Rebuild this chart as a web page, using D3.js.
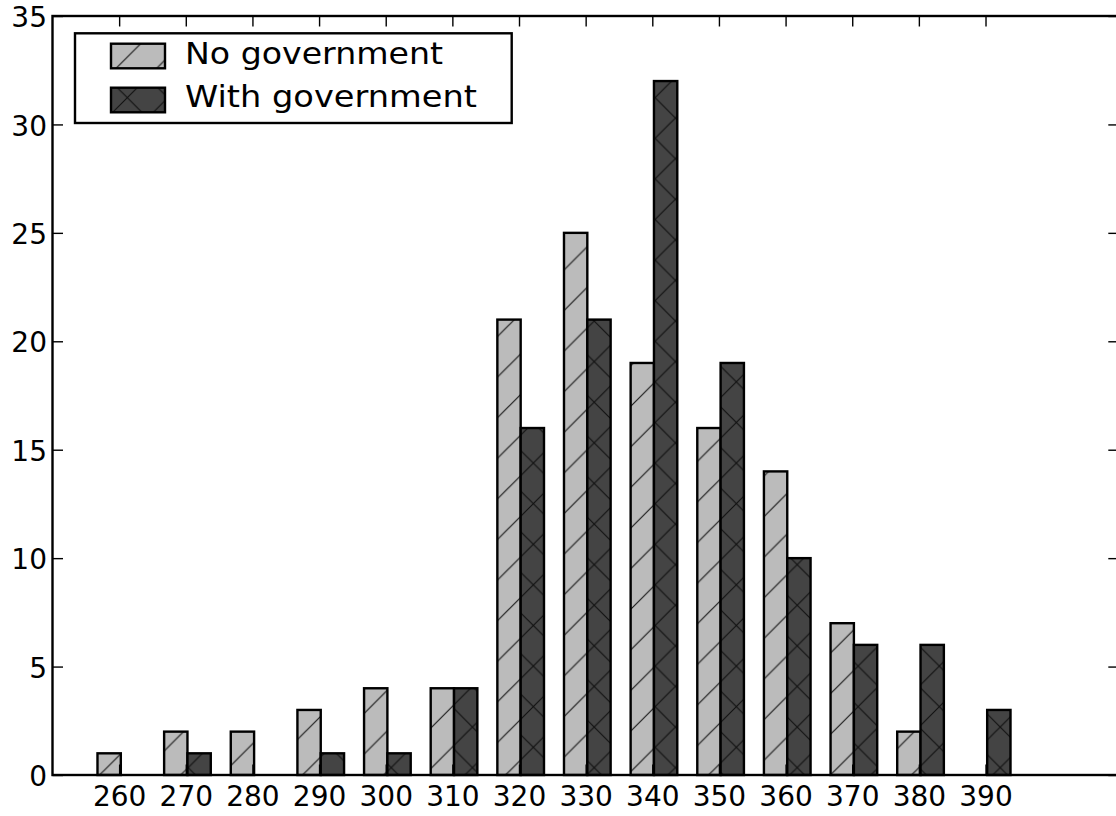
<!DOCTYPE html>
<html>
<head>
<meta charset="utf-8">
<script src="https://cdn.jsdelivr.net/npm/d3@7"></script>
<style>
  html, body { margin: 0; padding: 0; background: #ffffff; }
  svg { display: block; }
  text { font-family: "DejaVu Sans", sans-serif; fill: #000; }
</style>
</head>
<body>
<svg id="chart" width="1116" height="816"></svg>
<script>
// Histogram counts per bin
const bins = [260, 270, 280, 290, 300, 310, 320, 330, 340, 350, 360, 370, 380, 390];
const noGovernment   = [1, 2, 2, 3, 4, 4, 21, 25, 19, 16, 14, 7, 2, 0];
const withGovernment = [0, 1, 0, 1, 1, 4, 16, 21, 32, 19, 10, 6, 6, 3];
const seriesNames = ["No government", "With government"];
const yTicks = [0, 5, 10, 15, 20, 25, 30, 35];

const W = 1116, H = 816;
const plotL = 52.5, plotT = 16, plotB = 775, plotR = 1118.8;
const barW = 3.5, barShift = 0.25;   // bar width and pair offset, in data units
const hatchP = 40.6;                 // hatch period in px
const edgeW = 2.4;

const svg = d3.select("#chart");
svg.append("rect").attr("width", W).attr("height", H).attr("fill", "#fff");

const x = d3.scaleLinear().domain([250, 410]).range([plotL, plotR]);
const y = d3.scaleLinear().domain([0, 35]).range([plotB, plotT]);

// Hatch patterns: '/' on light grey, 'x' on dark grey
const defs = svg.append("defs");
function diagPath(P) {
  return `M0,${P} L${P},0 M${-P/2},${P/2} L${P/2},${-P/2} M${P/2},${1.5*P} L${1.5*P},${P/2}`;
}
function backPath(P) {
  return `M0,0 L${P},${P} M${-P/2},${P/2} L${P/2},${1.5*P} M${P/2},${-P/2} L${1.5*P},${P/2}`;
}
function makePattern(id, bg, d, stroke, shift) {
  const p = defs.append("pattern").attr("id", id)
    .attr("patternUnits", "userSpaceOnUse").attr("width", hatchP).attr("height", hatchP)
    .attr("patternTransform", shift);
  p.append("rect").attr("x", -1).attr("y", -1).attr("width", hatchP + 2).attr("height", hatchP + 2).attr("fill", bg);
  p.append("path").attr("d", d).attr("stroke", stroke).attr("stroke-width", 1.2).attr("fill", "none");
}
makePattern("hatchSlash", "#bbbbbb", diagPath(hatchP), "#1a1a1a", "translate(22,0)");
makePattern("hatchSlashDark", "#444444", diagPath(hatchP), "#111", "translate(22,0)");
makePattern("hatchCross", "none", backPath(hatchP), "#111", "translate(0,11)");

const fills = ["url(#hatchSlash)", "url(#hatchSlashDark)"];

// Bars
const series = [noGovernment, withGovernment];
series.forEach((vals, si) => {
  const g = svg.append("g").attr("class", "series-" + si);
  const data = bins.map((b, i) => ({ b, v: vals[i] }));
  const xs = v => si === 0 ? x(v + barShift - barW) : x(v + barShift);
  const layers = si === 0 ? [fills[0]] : [fills[1], "url(#hatchCross)"];
  layers.forEach((f, li) => {
    g.selectAll("rect.l" + li).data(data).join("rect").attr("class", "l" + li)
      .attr("x", d => xs(d.b)).attr("width", x(barW) - x(0))
      .attr("y", d => y(d.v)).attr("height", d => y(0) - y(d.v))
      .attr("fill", f);
  });
  g.selectAll("rect.edge").data(data).join("rect").attr("class", "edge")
    .attr("x", d => xs(d.b)).attr("width", x(barW) - x(0))
    .attr("y", d => y(d.v)).attr("height", d => y(0) - y(d.v))
    .attr("fill", "none").attr("stroke", "#000").attr("stroke-width", edgeW);
});

// Axes: ticks pointing inward on all four sides
const tickLen = 10.5;
const fmt = d3.format("d");
const axB = d3.axisBottom(x).tickValues(bins).tickSizeInner(-tickLen).tickSizeOuter(0).tickPadding(11).tickFormat(fmt);
const axT = d3.axisTop(x).tickValues(bins).tickSizeInner(-tickLen).tickSizeOuter(0).tickFormat("");
const axL = d3.axisLeft(y).tickValues(yTicks).tickSizeInner(-tickLen).tickSizeOuter(0).tickPadding(5.5).tickFormat(fmt);
const axR = d3.axisRight(y).tickValues(yTicks).tickSizeInner(-tickLen).tickSizeOuter(0).tickFormat("");

function styleAxis(g) {
  g.select(".domain").remove();
  g.selectAll(".tick line").attr("stroke", "#000").attr("stroke-width", 1.4);
  g.selectAll(".tick text").attr("font-size", 28).attr("font-family", "DejaVu Sans").attr("fill", "#000");
}
svg.append("g").attr("transform", `translate(0,${plotB})`).call(axB).call(styleAxis)
  .selectAll(".tick text").attr("dy", "0.71em");
svg.append("g").attr("transform", `translate(0,${plotT})`).call(axT).call(styleAxis);
svg.append("g").attr("transform", `translate(${plotL},0)`).call(axL).call(styleAxis)
  .selectAll(".tick text").attr("dy", "0.38em");
svg.append("g").attr("transform", `translate(${plotR},0)`).call(axR).call(styleAxis);

// Frame
svg.append("rect").attr("x", plotL).attr("y", plotT)
  .attr("width", plotR - plotL).attr("height", plotB - plotT)
  .attr("fill", "none").attr("stroke", "#000").attr("stroke-width", edgeW);

// Legend
const lg = svg.append("g").attr("class", "legend");
lg.append("rect").attr("x", 75).attr("y", 33.3).attr("width", 436.7).attr("height", 89.7)
  .attr("fill", "#fff").attr("stroke", "#000").attr("stroke-width", edgeW);
const legendRows = [
  { name: seriesNames[0], fills: ["url(#hatchSlash)"], y: 43.7, base: 64, len: 258 },
  { name: seriesNames[1], fills: ["url(#hatchSlashDark)", "url(#hatchCross)"], y: 87.7, base: 107, len: 292 }
];
legendRows.forEach(r => {
  r.fills.forEach(f => lg.append("rect").attr("x", 111).attr("y", r.y).attr("width", 54).attr("height", 24.6).attr("fill", f));
  lg.append("rect").attr("x", 111).attr("y", r.y).attr("width", 54).attr("height", 24.6)
    .attr("fill", "none").attr("stroke", "#000").attr("stroke-width", edgeW);
  lg.append("text").attr("x", 185).attr("y", r.base).attr("font-size", 29.5)
    .attr("textLength", r.len).attr("lengthAdjust", "spacingAndGlyphs").text(r.name);
});
</script>
</body>
</html>
